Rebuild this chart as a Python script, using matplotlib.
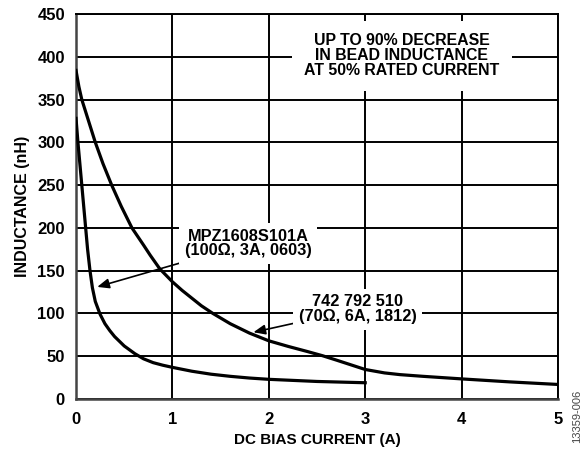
import numpy as np
import matplotlib.pyplot as plt

plt.rcParams['font.family'] = ['Liberation Sans', 'DejaVu Sans']
plt.rcParams['font.weight'] = 'bold'

# MPZ1608S101A (100 ohm, 3A, 0603)
mpz_current = [0, 0.02, 0.04, 0.06, 0.08, 0.10, 0.12, 0.145, 0.17, 0.20,
               0.25, 0.30, 0.35, 0.40, 0.50, 0.61, 0.70, 0.80, 0.90, 1.0,
               1.2, 1.4, 1.6, 1.8, 2.0, 2.5, 3.0]
mpz_induct = [328, 300, 275, 250, 225, 200, 175, 150, 130, 114,
              99, 88, 80, 73, 62, 53, 47, 42.5, 39.5, 37,
              32.5, 29, 26.5, 24.5, 23, 20.5, 19]

# 742 792 510 (70 ohm, 6A, 1812)
we_current = [0, 0.03, 0.06, 0.13, 0.20, 0.28, 0.37, 0.47, 0.58, 0.70,
              0.77, 0.87, 1.0, 1.1, 1.2, 1.3, 1.42, 1.6, 1.8, 2.0,
              2.2, 2.4, 2.56, 2.7, 2.85, 3.0, 3.2, 3.36, 3.6, 4.0,
              4.5, 5.0]
we_induct = [384, 365, 350, 325, 300, 275, 250, 225, 200, 180,
             168, 152, 137, 127, 118, 109, 100, 88, 77, 68,
             61.5, 55.5, 50.5, 45.5, 40, 34.5, 30.5, 28.5, 26.5, 23.5,
             20, 17]

x_ticks = [0, 1, 2, 3, 4, 5]
y_ticks = [0, 50, 100, 150, 200, 250, 300, 350, 400, 450]

fig = plt.figure(figsize=(5.87, 4.53), dpi=100)
ax = fig.add_axes([0.1295, 0.1192, 0.8211, 0.8499])

ax.plot(mpz_current, mpz_induct, color='black', linewidth=2.3, zorder=4,
        solid_joinstyle='round')
ax.plot(we_current, we_induct, color='black', linewidth=2.3, zorder=4,
        solid_joinstyle='round')

ax.set_xlim(0, 5)
ax.set_ylim(0, 450)
ax.set_xticks(x_ticks)
ax.set_yticks(y_ticks)
ax.grid(True, color='black', linewidth=1.4)
ax.set_axisbelow(True)
ax.tick_params(length=0, labelsize=12, pad=8)
ax.tick_params(axis='x', pad=9)
for lbl in ax.get_xticklabels() + ax.get_yticklabels():
    lbl.set_fontweight('bold')

for side in ('top', 'right'):
    ax.spines[side].set_color('black')
    ax.spines[side].set_linewidth(1.4)
for side in ('bottom', 'left'):
    ax.spines[side].set_color('#444444')
    ax.spines[side].set_linewidth(1.8)

ax.set_xlabel('DC BIAS CURRENT (A)', fontsize=11, fontweight='bold', labelpad=5)
ax.set_ylabel('INDUCTANCE (nH)', fontsize=11.5, fontweight='bold', labelpad=5)

box = dict(facecolor='white', edgecolor='none', pad=4)

ax.text(3.38, 401, 'UP TO 90% DECREASE\nIN BEAD INDUCTANCE\nAT 50% RATED CURRENT',
        ha='center', va='center', fontsize=11.4, fontweight='bold',
        linespacing=1.0, bbox=dict(facecolor='white', edgecolor='none', pad=9),
        zorder=5)

arrow = dict(arrowstyle='-|>,head_length=0.6,head_width=0.25', color='black',
             lw=1.2, shrinkA=0, shrinkB=0)

ax.annotate('MPZ1608S101A\n(100\u03a9, 3A, 0603)', xy=(0.22, 131), xytext=(1.13, 182),
            ha='left', va='center', multialignment='center', fontsize=11.8,
            fontweight='bold', linespacing=0.95, bbox=box, arrowprops=arrow, zorder=5)

ax.annotate('742 792 510\n(70\u03a9, 6A, 1812)', xy=(1.84, 78), xytext=(2.31, 105),
            ha='left', va='center', multialignment='center', fontsize=11.8,
            fontweight='bold', linespacing=1.0, bbox=box, arrowprops=arrow, zorder=5)

fig.text(0.983, 0.022, '13359-006', rotation=90, fontsize=8, fontweight='normal',
         color='#444444', ha='center', va='bottom')

fig.savefig('out.png', dpi=100)
